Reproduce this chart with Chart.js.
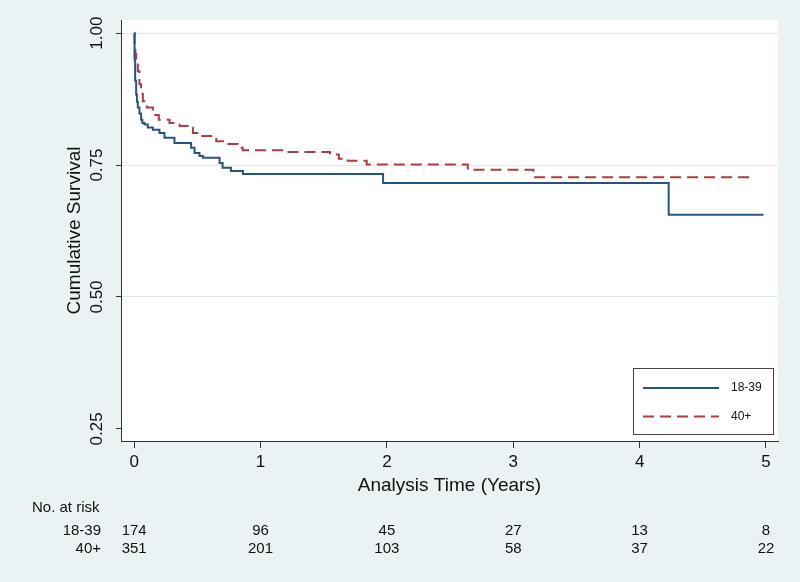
<!DOCTYPE html>
<html><head><meta charset="utf-8">
<script src="https://cdn.jsdelivr.net/npm/chart.js@4.4.0/dist/chart.umd.min.js"></script>
<style>html,body{margin:0;padding:0;background:#eaf2f3;overflow:hidden}#wrap{width:800px;height:582px;position:relative}</style>
</head><body><div id="wrap"><canvas id="c" width="800" height="582"></canvas></div>
<script>
// ---- data ----
const seriesLabels = ['18-39', '40+'];
const timesYoung = [0, 0.003, 0.008, 0.016, 0.022, 0.029, 0.042, 0.055, 0.065, 0.082, 0.108, 0.148, 0.2, 0.24, 0.319, 0.451, 0.478, 0.517, 0.544, 0.676, 0.70, 0.766, 0.861, 1.97, 4.23, 4.98];
const survYoung  = [1, 0.95, 0.91, 0.884, 0.87, 0.859, 0.848, 0.836, 0.83, 0.827, 0.821, 0.817, 0.811, 0.802, 0.792, 0.783, 0.773, 0.767, 0.764, 0.754, 0.745, 0.739, 0.733, 0.716, 0.656, 0.656];
const timesOld = [0, 0.004, 0.01, 0.016, 0.029, 0.042, 0.055, 0.069, 0.10, 0.148, 0.195, 0.28, 0.36, 0.425, 0.465, 0.53, 0.65, 0.73, 0.82, 0.86, 1.18, 1.55, 1.62, 1.69, 1.84, 2.64, 3.16, 4.90];
const survOld  = [1, 0.975, 0.96, 0.947, 0.928, 0.903, 0.885, 0.871, 0.859, 0.845, 0.836, 0.830, 0.824, 0.821, 0.811, 0.805, 0.795, 0.790, 0.783, 0.778, 0.775, 0.770, 0.762, 0.758, 0.751, 0.741, 0.727, 0.727];
const xTicks = [0, 1, 2, 3, 4, 5];
const yTicks = [0.25, 0.50, 0.75, 1.00];
const riskTimes = [0, 1, 2, 3, 4, 5];
const riskYoung = [174, 96, 45, 27, 13, 8];
const riskOld   = [351, 201, 103, 58, 37, 22];

// ---- styling ----
const FONT = '"Liberation Sans", Arial, Helvetica, sans-serif';
const BG = '#eaf2f3';
const TXT = '#111111';
const AXIS = '#333333';
const BLUE = '#265482';
const RED = '#b03a40';

const bgPlugin = {
  id: 'bg',
  beforeDraw(chart) {
    const {ctx, chartArea: a} = chart;
    ctx.save();
    ctx.fillStyle = BG;
    ctx.fillRect(0, 0, chart.width, chart.height);
    ctx.fillStyle = '#ffffff';
    ctx.fillRect(a.left, a.top, a.right - a.left, a.bottom - a.top);
    ctx.restore();
  }
};

const legendPlugin = {
  id: 'kmLegend',
  afterDatasetsDraw(chart) {
    const {ctx, chartArea: a} = chart;
    const w = 140, h = 66;
    const x0 = a.right - 5 - w, y0 = a.bottom - 7 - h;
    ctx.save();
    ctx.fillStyle = '#ffffff';
    ctx.fillRect(x0, y0, w, h);
    ctx.strokeStyle = '#444444';
    ctx.lineWidth = 1;
    ctx.strokeRect(Math.round(x0) + 0.5, Math.round(y0) + 0.5, w, h);
    ctx.font = '12px ' + FONT;
    ctx.fillStyle = TXT;
    ctx.textBaseline = 'middle';
    ctx.textAlign = 'left';
    chart.data.datasets.forEach((ds, i) => {
      const y = y0 + 20 + i * 28.5;
      ctx.strokeStyle = ds.borderColor;
      ctx.lineWidth = ds.borderWidth;
      ctx.setLineDash(ds.borderDash || []);
      ctx.beginPath();
      ctx.moveTo(x0 + 10, y);
      ctx.lineTo(x0 + 86, y);
      ctx.stroke();
      ctx.setLineDash([]);
      ctx.fillText(ds.label, x0 + 98, y);
    });
    ctx.restore();
  }
};

const riskPlugin = {
  id: 'riskTable',
  afterDraw(chart) {
    const {ctx} = chart;
    const xs = chart.scales.x;
    ctx.save();
    ctx.fillStyle = TXT;
    ctx.font = '15px ' + FONT;
    ctx.textBaseline = 'middle';
    ctx.textAlign = 'left';
    ctx.fillText('No. at risk', 32, 507.5);
    ctx.textAlign = 'right';
    ctx.fillText(seriesLabels[0], 101, 530.5);
    ctx.fillText(seriesLabels[1], 101, 548.5);
    ctx.textAlign = 'center';
    riskTimes.forEach((t, i) => {
      const px = xs.getPixelForValue(t);
      ctx.fillText(String(riskYoung[i]), px, 530.5);
      ctx.fillText(String(riskOld[i]), px, 548.5);
    });
    ctx.restore();
  }
};

const toPts = (ts, ss) => ts.map((t, i) => ({x: t, y: ss[i]}));

new Chart(document.getElementById('c'), {
  type: 'line',
  data: {
    datasets: [
      {label: seriesLabels[0], data: toPts(timesYoung, survYoung), borderColor: BLUE, borderWidth: 2, stepped: true, pointRadius: 0, fill: false},
      {label: seriesLabels[1], data: toPts(timesOld, survOld), borderColor: RED, borderWidth: 2, borderDash: [11, 6], stepped: true, pointRadius: 0, fill: false}
    ]
  },
  options: {
    responsive: false,
    animation: false,
    devicePixelRatio: 1,
    layout: {padding: {left: 0, right: 22, top: 20, bottom: 0}},
    plugins: {legend: {display: false}, tooltip: {enabled: false}},
    scales: {
      x: {
        type: 'linear', min: -0.104, max: 5.095,
        afterBuildTicks(s) { s.ticks = xTicks.map(v => ({value: v})); },
        afterFit(s) { s.height = 141; },
        ticks: {autoSkip: false, maxRotation: 0, padding: 4, color: TXT, font: {size: 17, family: FONT}, callback: v => String(v)},
        grid: {drawOnChartArea: false, tickLength: 7, tickColor: AXIS},
        border: {color: AXIS, width: 1},
        title: {display: true, text: 'Analysis Time (Years)', color: TXT, font: {size: 19, family: FONT}, padding: {top: 0, bottom: 84.6}}
      },
      y: {
        type: 'linear', min: 0.227, max: 1.025,
        afterBuildTicks(s) { s.ticks = yTicks.map(v => ({value: v})); },
        afterFit(s) { s.width = 121; },
        ticks: {minRotation: 90, maxRotation: 90, crossAlign: 'center', padding: 2, color: TXT, font: {size: 17, family: FONT}, callback: v => Number(v).toFixed(2)},
        grid: {
          color: c => (c.tick && c.tick.value === 0.25) ? 'rgba(0,0,0,0)' : '#e1e9eb',
          tickColor: AXIS, tickLength: 5, lineWidth: 1
        },
        border: {color: AXIS, width: 1},
        title: {display: true, text: 'Cumulative Survival', color: TXT, font: {size: 19, family: FONT}, padding: {top: 63.6, bottom: 0}}
      }
    }
  },
  plugins: [bgPlugin, legendPlugin, riskPlugin]
});
</script></body></html>
